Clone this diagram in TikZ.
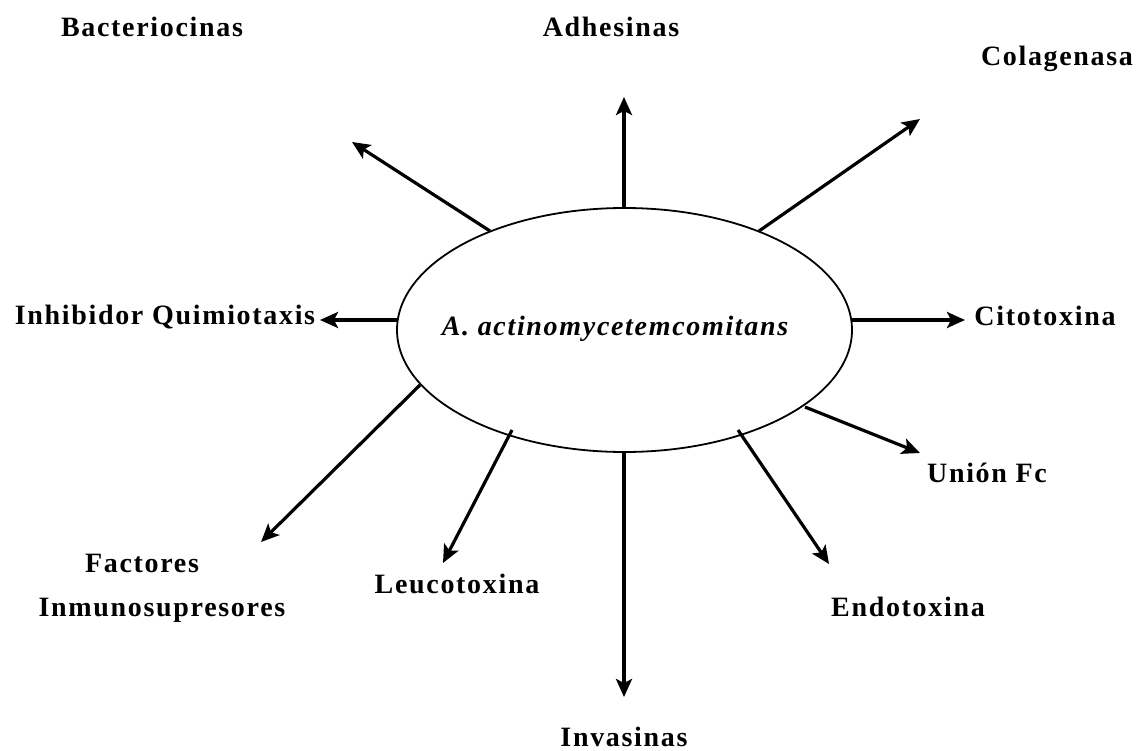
\documentclass[tikz,border=0pt]{standalone}
\usepackage{fontspec}
\setmainfont{Liberation Serif}
\newfontfamily\lblfont[LetterSpace=6]{Liberation Serif}
\usetikzlibrary{shapes.geometric,arrows.meta}
\begin{document}
\begin{tikzpicture}[x=1pt,y=-1pt,
  lab/.style={anchor=base, inner sep=0pt, font=\lblfont\bfseries\fontsize{28}{32}\selectfont},
  arr/.style={line width=3.2pt, -{Stealth[length=18pt,width=16pt,inset=4pt]}},
  core/.style={ellipse, draw, line width=1.8pt, minimum width=455pt, minimum height=244pt, inner sep=0pt}]
\useasboundingbox (0,0) rectangle (1137,751);
% central ellipse
\node[core] (ell) at (624.5,330) {};
\node[lab, font=\lblfont\bfseries\itshape\fontsize{28}{32}\selectfont] (name) at (615,335) {A. actinomycetemcomitans};
% labels
\node[lab] (bac) at (152,37) {Bacteriocinas};
\node[lab] (adh) at (611,37) {Adhesinas};
\node[lab] (col) at (1057,66) {Colagenasa};
\node[lab] (inh) at (165,324) {Inhibidor Quimiotaxis};
\node[lab] (cit) at (1045,325) {Citotoxina};
\node[lab] (fc)  at (987,482) {Unión Fc};
\node[lab] (fac) at (142,572) {Factores};
\node[lab] (inm) at (162,616) {Inmunosupresores};
\node[lab] (leu) at (457,593) {Leucotoxina};
\node[lab] (endo) at (908,616) {Endotoxina};
\node[lab] (inv) at (624,746) {Invasinas};
% arrow start points on the ellipse
\coordinate (sadh) at (624,208);
\coordinate (sbac) at (490,231);
\coordinate (scol) at (759,231);
\coordinate (sinh) at (397,320);
\coordinate (scit) at (852,320);
\coordinate (sfc)  at (805,407);
\coordinate (sendo) at (738,430);
\coordinate (sinv) at (624,452);
\coordinate (sleu) at (512,430);
\coordinate (sfac) at (420,385);
% arrow tips
\coordinate (tadh) at (624,97);
\coordinate (tbac) at (352,142);
\coordinate (tcol) at (920,119);
\coordinate (tinh) at (320,320);
\coordinate (tcit) at (965,320);
\coordinate (tfc)  at (920,453);
\coordinate (tendo) at (829,564);
\coordinate (tinv) at (624,697);
\coordinate (tleu) at (443,563);
\coordinate (tfac) at (261,542);
% arrows
\draw[arr] (sadh) -- (tadh);
\draw[arr] (sbac) -- (tbac);
\draw[arr] (scol) -- (tcol);
\draw[arr] (sinh) -- (tinh);
\draw[arr] (scit) -- (tcit);
\draw[arr] (sfc) -- (tfc);
\draw[arr] (sendo) -- (tendo);
\draw[arr] (sinv) -- (tinv);
\draw[arr] (sleu) -- (tleu);
\draw[arr] (sfac) -- (tfac);
\end{tikzpicture}
\end{document}
